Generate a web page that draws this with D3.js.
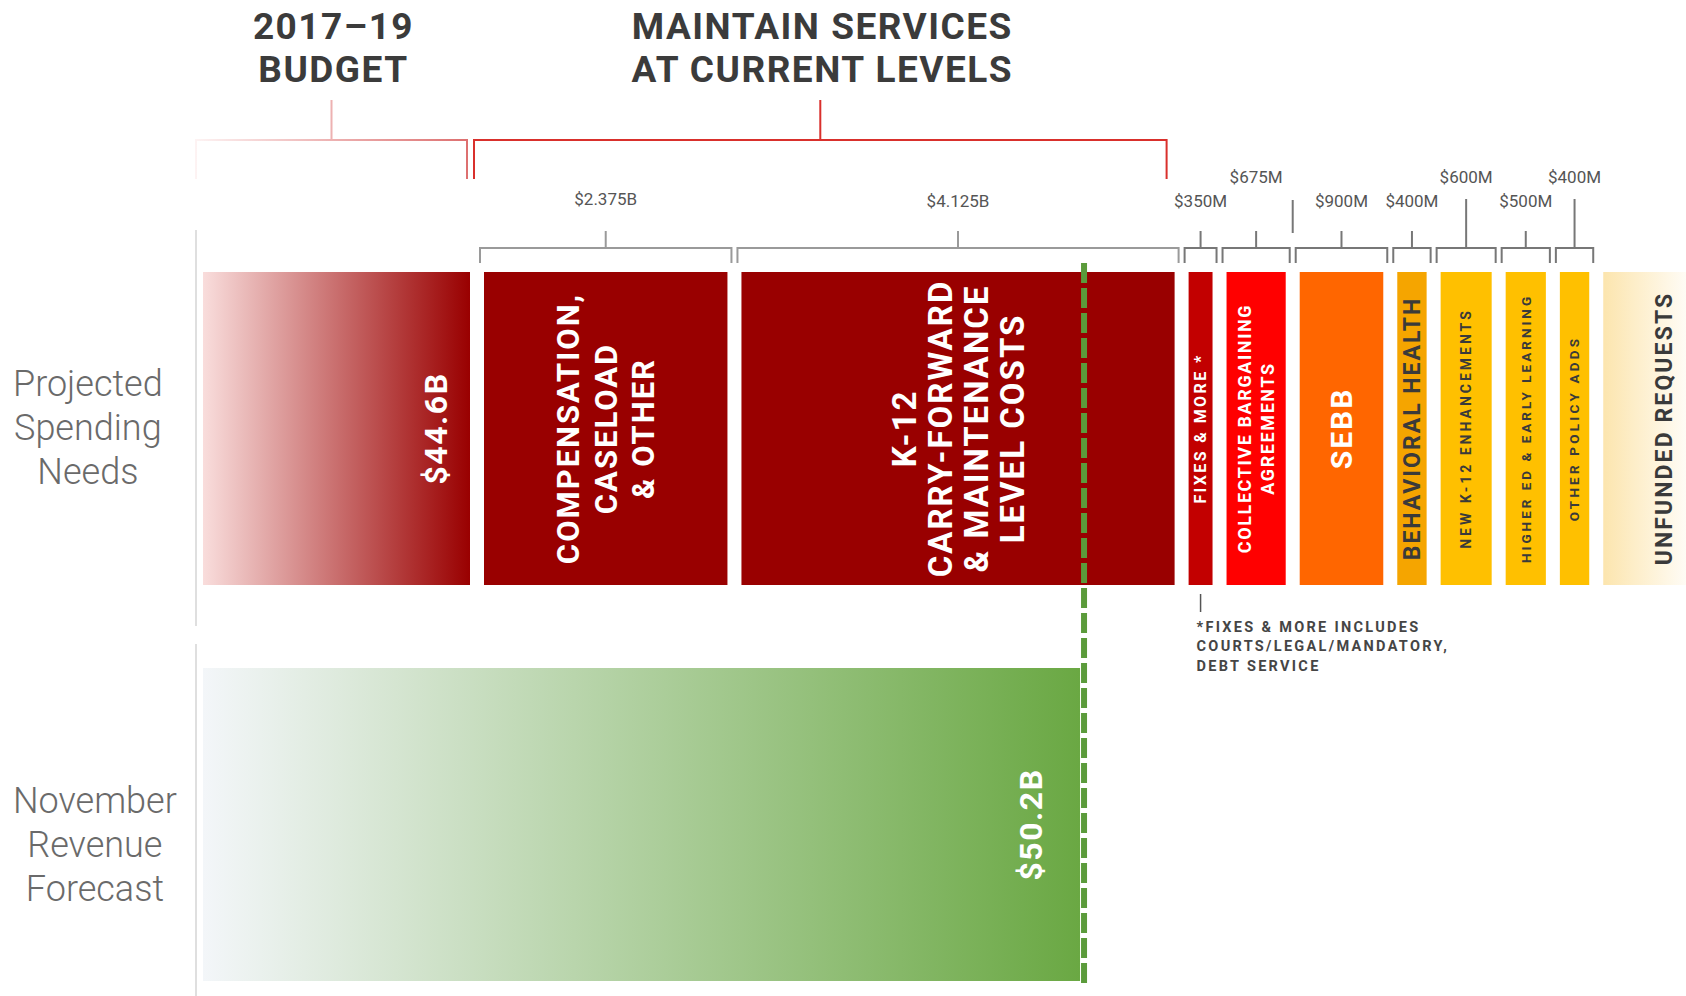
<!DOCTYPE html>
<html lang="en">
<head>
  <meta charset="UTF-8">
  <title>Projected spending needs vs revenue forecast</title>
  <script src="https://cdn.jsdelivr.net/npm/d3@7"></script>
  <style>
    body { margin: 0; background: #fff; }
    svg { display: block; font-family: Roboto, 'Open Sans', sans-serif; }
    .head { font-size: 37px; font-weight: 700; fill: #3b3b3b; letter-spacing: 1.5px; }
    .rowLabel { font-size: 36px; font-weight: 300; fill: #6a6a6a; }
    .amt { font-size: 17px; fill: #555; }
    .note { font-size: 14.5px; font-weight: 700; fill: #454545; letter-spacing: 2.3px; }
    .barText { font-weight: 700; }
  </style>
</head>
<body>
<div class="container"></div>
<script>
  // ---- data ----
  var categories = ["2017-19 Budget", "Compensation, Caseload & Other", "K-12 Carry-Forward & Maintenance Level Costs",
    "Fixes & More", "Collective Bargaining Agreements", "SEBB", "Behavioral Health",
    "New K-12 Enhancements", "Higher Ed & Early Learning", "Other Policy Adds", "Unfunded Requests"];
  var amounts = [44.6, 2.375, 4.125, 0.35, 0.675, 0.9, 0.4, 0.6, 0.5, 0.4, 1.0]; // $ billions
  var amountLabels = ["", "$2.375B", "$4.125B", "$350M", "$675M", "$900M", "$400M", "$600M", "$500M", "$400M", ""];
  var barText = [["$44.6B"], ["COMPENSATION,", "CASELOAD", "& OTHER"], ["K-12", "CARRY-FORWARD", "& MAINTENANCE", "LEVEL COSTS"],
    ["FIXES & MORE *"], ["COLLECTIVE BARGAINING", "AGREEMENTS"], ["SEBB"], ["BEHAVIORAL HEALTH"],
    ["NEW K-12 ENHANCEMENTS"], ["HIGHER ED & EARLY LEARNING"], ["OTHER POLICY ADDS"], ["UNFUNDED REQUESTS"]];
  var groupTitles = [["2017\u201319", "BUDGET"], ["MAINTAIN SERVICES", "AT CURRENT LEVELS"]];
  var groupSpans = [[0, 1], [1, 3]];
  var rows = ["Projected Spending Needs", "November Revenue Forecast"];
  var revenue = 50.2;
  var revenueLabel = "$50.2B";
  var footnote = ["*FIXES & MORE INCLUDES", "COURTS/LEGAL/MANDATORY,", "DEBT SERVICE"];

  // ---- styles ----
  var barColors = ["url(#gBudget)", "#990000", "#990000", "#c20000", "#ff0000", "#ff6600", "#f5a500",
    "#ffc000", "#ffc000", "#ffc000", "url(#gUnfunded)"];
  var textColors = ["#fff", "#fff", "#fff", "#fff", "#fff", "#fff", "#3a3a3a", "#3a3a3a", "#3a3a3a", "#3a3a3a", "#3a3a3a"];
  var fontSizes = [32, 31, 33, 16, 18, 30, 23, 14, 13.5, 13.5, 23];
  var spacings = [1.5, 2, 2, 2.4, 1.6, 2, 2, 3, 3, 3.2, 2.1];
  var lineGaps = [0, 37.5, 36, 0, 23, 0, 0, 0, 0, 0, 0];
  var raised = [0, 0, 0, 0, 1, 0, 0, 1, 0, 1, 0]; // 1 = amount label sits higher

  var W = 1686, H = 996;
  var svg = d3.select('.container').append('svg')
    .attr('width', W).attr('height', H);

  var defs = svg.append('defs');
  function grad(id, c0, c1) {
    var g = defs.append('linearGradient').attr('id', id);
    g.append('stop').attr('offset', '0%').attr('stop-color', c0);
    g.append('stop').attr('offset', '100%').attr('stop-color', c1);
    return g;
  }
  grad('gBudget', '#f9dddc', '#990000');
  grad('gUnfunded', '#fce5ae', '#ffffff');
  grad('gRevenue', '#f3f6f9', '#6aa843');

  // scales
  var base = amounts[0];
  var rest = d3.sum(amounts.slice(1));
  var x = d3.scaleLinear()
    .domain([0, base, base + rest])
    .range([196, 477, 477 + rest * 108.4]);
  var y = d3.scaleBand().domain(rows).range([272, 981]).paddingInner(0.2096);
  var bw = y.bandwidth();

  var cum = [];
  amounts.reduce(function(acc, v) { cum.push(acc); return acc + v; }, 0);
  var bars = amounts.map(function(v, i) {
    return { i: i, name: categories[i], v: v, x0: x(cum[i]), x1: x(cum[i] + v) };
  });
  var inset = 7;

  // axis rules
  var ruleExt = [[42, 41], [24, 15]];
  rows.forEach(function(r, k) {
    svg.append('line')
      .attr('x1', x(0)).attr('x2', x(0))
      .attr('y1', y(r) - ruleExt[k][0]).attr('y2', y(r) + bw + ruleExt[k][1])
      .attr('stroke', '#d4d4d4').attr('stroke-width', 1.5);
  });

  // row labels
  var rowShift = [-1, 19];
  rows.forEach(function(r, k) {
    var words = r.split(' ');
    var g = svg.append('g');
    var t = g.selectAll('text').data(words).enter().append('text')
      .attr('class', 'rowLabel')
      .attr('text-anchor', 'middle')
      .attr('y', function(d, j) { return y(r) + bw / 2 + rowShift[k] + (j - 1) * 44 + 13; })
      .text(function(d) { return d; });
    var maxW = d3.max(t.nodes(), function(n) { return n.getComputedTextLength(); });
    t.attr('x', 13 + maxW / 2);
  });

  // spending bars
  var spendTop = y(rows[0]);
  svg.append('g').selectAll('rect').data(bars).enter().append('rect')
    .attr('x', function(d) { return d.x0 + inset; })
    .attr('y', spendTop)
    .attr('width', function(d) { return d.x1 - d.x0 - 2 * inset; })
    .attr('height', bw)
    .attr('fill', function(d) { return barColors[d.i]; });

  // revenue bar
  var revTop = y(rows[1]);
  var revX = x(revenue);
  svg.append('rect')
    .attr('x', x(0) + inset).attr('y', revTop)
    .attr('width', revX - 4 - x(0) - inset).attr('height', bw)
    .attr('fill', 'url(#gRevenue)');

  // rotated bar labels
  function barCx(d) {
    if (d.i === 0) return d.x1 - inset - 35;
    if (d.i === bars.length - 1) return d.x0 + inset + 60;
    return (d.x0 + d.x1) / 2;
  }
  bars.forEach(function(d) {
    var lines = barText[d.i];
    var g = svg.append('g')
      .attr('transform', 'translate(' + barCx(d) + ',' + (spendTop + bw / 2) + ') rotate(-90)');
    g.selectAll('text').data(lines).enter().append('text')
      .attr('class', 'barText')
      .attr('text-anchor', 'middle')
      .attr('dy', '0.36em')
      .attr('y', function(l, j) { return (j - (lines.length - 1) / 2) * lineGaps[d.i]; })
      .style('font-size', fontSizes[d.i] + 'px')
      .style('letter-spacing', spacings[d.i] + 'px')
      .style('fill', textColors[d.i])
      .text(function(l) { return l; });
  });
  svg.append('text')
    .attr('class', 'barText')
    .attr('transform', 'translate(' + (revX - 54) + ',' + (revTop + bw / 2) + ') rotate(-90)')
    .attr('text-anchor', 'middle').attr('dy', '0.36em')
    .style('font-size', '32px').style('letter-spacing', '1.5px').style('fill', '#fff')
    .text(revenueLabel);

  // revenue marker line
  svg.append('line')
    .attr('x1', revX).attr('x2', revX)
    .attr('y1', spendTop - 9).attr('y2', revTop + bw + 7)
    .attr('stroke', '#5b9b3b').attr('stroke-width', 6)
    .attr('stroke-dasharray', '20,5');

  // small brackets with amounts
  var brY = spendTop - 24, brEnd = spendTop - 9;
  bars.forEach(function(d) {
    if (!amountLabels[d.i]) return;
    var a = d.x0 + 3, b = d.x1 - 3, c = (d.x0 + d.x1) / 2;
    var col = d.i < 3 ? '#9a9a9a' : '#777';
    svg.append('path')
      .attr('d', 'M' + a + ',' + brEnd + 'V' + brY + 'H' + b + 'V' + brEnd)
      .attr('fill', 'none').attr('stroke', col).attr('stroke-width', 2);
    var stemTop = (raised[d.i] && d.i !== 4) ? brY - 49 : brY - 17;
    svg.append('line').attr('x1', c).attr('x2', c).attr('y1', stemTop).attr('y2', brY)
      .attr('stroke', col).attr('stroke-width', 2);
    if (d.i === 4) {
      svg.append('line').attr('x1', b + 3).attr('x2', b + 3).attr('y1', brY - 48).attr('y2', brY - 15)
        .attr('stroke', '#777').attr('stroke-width', 2);
    }
    svg.append('text').attr('class', 'amt')
      .attr('x', c).attr('y', raised[d.i] ? brY - 65 : brY - 41 + (d.i === 1 ? -2 : 0))
      .attr('text-anchor', 'middle')
      .text(amountLabels[d.i]);
  });

  // top group brackets
  var groupInset = [[0, 10], [-3, 15]];
  var gColors = ['url(#gBracket)', '#d9302c'];
  var gb = defs.append('linearGradient').attr('id', 'gBracket')
    .attr('gradientUnits', 'userSpaceOnUse')
    .attr('x1', x(0)).attr('x2', x(base)).attr('y1', 0).attr('y2', 0);
  gb.append('stop').attr('offset', '0%').attr('stop-color', '#fdf3f3');
  gb.append('stop').attr('offset', '100%').attr('stop-color', '#dc6b6b');
  groupSpans.forEach(function(s, k) {
    var a = bars[s[0]].x0 + groupInset[k][0];
    var b = bars[s[1] - 1].x1 - groupInset[k][1];
    var c = (a + b) / 2;
    svg.append('path')
      .attr('d', 'M' + a + ',179V140H' + b + 'V179M' + c + ',140V100')
      .attr('fill', 'none').attr('stroke', gColors[k]).attr('stroke-width', 2);
    svg.append('g').selectAll('text').data(groupTitles[k]).enter().append('text')
      .attr('class', 'head')
      .attr('text-anchor', 'middle')
      .attr('x', c + 2)
      .attr('y', function(t, j) { return 39 + j * 43; })
      .text(function(t) { return t; });
  });

  // footnote for fixes & more
  var fx = (bars[3].x0 + bars[3].x1) / 2;
  svg.append('line').attr('x1', fx).attr('x2', fx)
    .attr('y1', spendTop + bw + 9).attr('y2', spendTop + bw + 27)
    .attr('stroke', '#555').attr('stroke-width', 1.5);
  svg.append('g').selectAll('text').data(footnote).enter().append('text')
    .attr('class', 'note')
    .attr('x', fx - 4)
    .attr('y', function(t, j) { return spendTop + bw + 47 + j * 19.5; })
    .text(function(t) { return t; });
</script>
</body>
</html>
